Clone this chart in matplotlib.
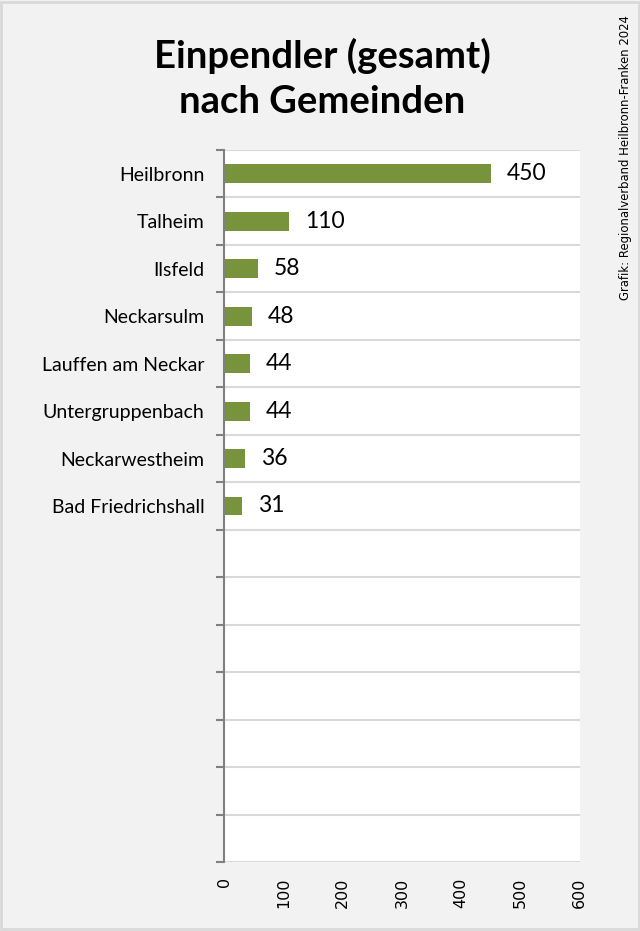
import matplotlib
matplotlib.use("Agg")
import matplotlib.pyplot as plt
from matplotlib.patches import Rectangle

gemeinden = ["Heilbronn", "Talheim", "Ilsfeld", "Neckarsulm", "Lauffen am Neckar",
             "Untergruppenbach", "Neckarwestheim", "Bad Friedrichshall"]
einpendler = [450, 110, 58, 48, 44, 44, 36, 31]
n_slots = 15  # Excel chart has room for 15 categories, only 8 filled
x_ticks = [0, 100, 200, 300, 400, 500, 600]

labels = gemeinden + [""] * (n_slots - len(gemeinden))

fig = plt.figure(figsize=(6.4, 9.31), dpi=100)
fig.patch.set_facecolor("#f2f2f2")
fig.patches.append(Rectangle((0.002, 0.002), 0.996, 0.996, transform=fig.transFigure,
                             fill=False, edgecolor="#d9d9d9", linewidth=2))

ax = fig.add_axes([0.35, 0.0741, 0.556, 0.7648])
ax.set_facecolor("white")

pos = list(range(n_slots))
ax.barh(pos[:len(einpendler)], einpendler, height=0.4, color="#77933c")
for p, v in zip(pos, einpendler):
    ax.text(v + 26, p, str(v), va="center", ha="left", fontsize=16.5, family="Lato")

ax.set_xlim(0, 600)
ax.set_ylim(n_slots - 0.5, -0.5)
ax.set_xticks(x_ticks)
ax.set_xticklabels([str(t) for t in x_ticks], rotation=90, fontsize=11.5, family="DejaVu Sans")
ax.tick_params(axis="x", length=0, pad=11)

ax.set_yticks(pos)
ax.set_yticklabels(labels, fontsize=14, family="Lato")
ax.tick_params(axis="y", which="major", length=0, pad=14)
ax.set_yticks([p - 0.5 for p in range(n_slots + 1)], minor=True)
ax.tick_params(axis="y", which="minor", length=6, color="#808080", width=1.5)
ax.grid(axis="y", which="minor", color="#d9d9d9", linewidth=1.5)
ax.set_axisbelow(True)

for s in ["top", "right", "bottom"]:
    ax.spines[s].set_visible(False)
ax.spines["left"].set_color("#808080")
ax.spines["left"].set_linewidth(1.5)

fig.text(0.503, 0.916, "Einpendler (gesamt)\nnach Gemeinden", ha="center", va="center",
         fontsize=27.5, fontweight="bold", family="Lato", linespacing=1.38)
fig.text(0.977, 0.984, "Grafik: Regionalverband Heilbronn-Franken 2024", rotation=90,
         ha="center", va="top", fontsize=8.4, family="DejaVu Sans")

fig.savefig("out.png", dpi=100, facecolor=fig.get_facecolor())
